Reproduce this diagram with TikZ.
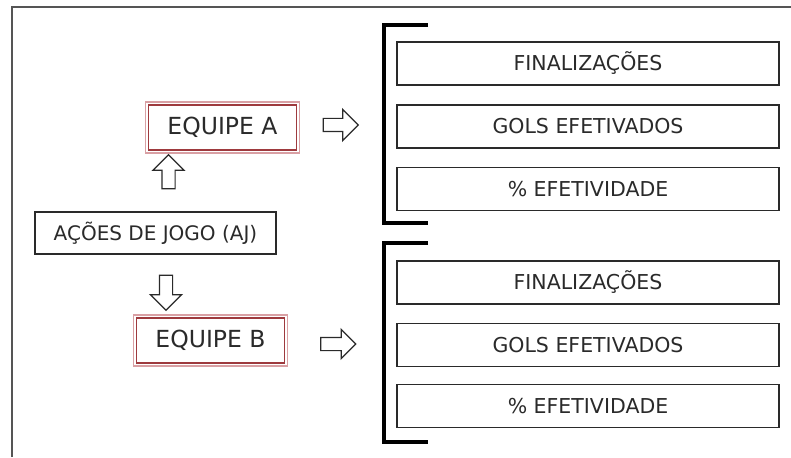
\documentclass[tikz,border=0pt]{standalone}
\usepackage{fontspec}
\setmainfont{DejaVu Sans}
\usetikzlibrary{shapes.arrows}
\definecolor{ink}{HTML}{2A2A2A}
\definecolor{frame}{HTML}{555555}
\definecolor{teamred}{HTML}{9E3A3E}
\definecolor{teampink}{HTML}{D9A0A4}
\tikzset{
  itembox/.style={draw=ink, line width=1.3pt, minimum width=382pt, minimum height=43pt,
    inner sep=0pt, text=ink, font=\fontsize{20.5}{24}\selectfont},
  teambox/.style={draw=teamred, line width=1.5pt, minimum width=148pt, minimum height=45pt,
    inner sep=0pt, text=ink, font=\fontsize{23.5}{27}\selectfont},
  teamrim/.style={draw=teampink, line width=1.5pt},
  actionbox/.style={draw=ink, line width=1.3pt, minimum width=241pt, minimum height=42pt,
    inner sep=0pt, text=ink, font=\fontsize{20}{24}\selectfont},
  blockarrow/.style={single arrow, draw=ink, line width=1.2pt, fill=white, inner sep=6pt,
    single arrow head extend=9pt, minimum height=35pt},
  bracket/.style={line width=4pt, black, line cap=butt}
}
\begin{document}
\begin{tikzpicture}[x=1pt, y=-1pt]
\useasboundingbox (0,0) rectangle (791,457);
\fill[white] (0,0) rectangle (791,457);

% outer frame, open at the bottom and right
\coordinate (fb) at (12,457);
\coordinate (fc) at (12,7);
\coordinate (fr) at (791,7);
\draw[frame, line width=1.5pt] (fb) -- (fc) -- (fr);

% source of the game actions
\node[actionbox] (aj) at (155.5,233) {AÇÕES DE JOGO (AJ)};

% teams
\node[teambox] (ea) at (222.5,127.5) {EQUIPE A};
\draw[teamrim] ([shift={(-2.2,-2.2)}]ea.north west) rectangle ([shift={(2.2,2.2)}]ea.south east);
\node[teambox] (eb) at (210.5,340.5) {EQUIPE B};
\draw[teamrim] ([shift={(-2.2,-2.2)}]eb.north west) rectangle ([shift={(2.2,2.2)}]eb.south east);

% block arrows
\node[blockarrow, shape border rotate=90, minimum width=29pt, minimum height=34pt] (upA) at (168.5,175) {};
\node[blockarrow, shape border rotate=270, minimum width=30pt] (downB) at (166,289.5) {};
\node[blockarrow, minimum width=30pt] (rA) at (337.5,125) {};
\node[blockarrow, minimum width=28pt, single arrow head extend=8pt] (rB) at (335,344) {};

% brackets
\coordinate (ba1) at (428,25);  \coordinate (ba2) at (384,25);
\coordinate (ba3) at (384,223); \coordinate (ba4) at (428,223);
\draw[bracket] (ba1) -- (ba2) -- (ba3) -- (ba4);
\coordinate (bb1) at (428,243); \coordinate (bb2) at (384,243);
\coordinate (bb3) at (384,442); \coordinate (bb4) at (428,442);
\draw[bracket] (bb1) -- (bb2) -- (bb3) -- (bb4);

% indicators, team A
\node[itembox] (a1) at (588,63.5) {FINALIZAÇÕES};
\node[itembox] (a2) at (588,126.5) {GOLS EFETIVADOS};
\node[itembox] (a3) at (588,189) {\% EFETIVIDADE};

% indicators, team B
\node[itembox] (b1) at (588,282.5) {FINALIZAÇÕES};
\node[itembox] (b2) at (588,345) {GOLS EFETIVADOS};
\node[itembox] (b3) at (588,406) {\% EFETIVIDADE};
\end{tikzpicture}
\end{document}
